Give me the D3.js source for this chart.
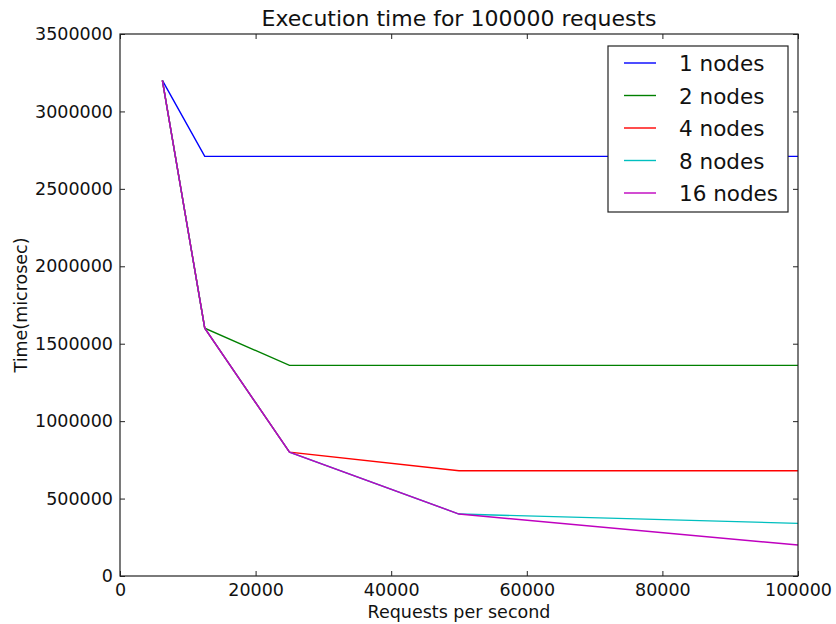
<!DOCTYPE html>
<html>
<head>
<meta charset="utf-8">
<script src="https://cdn.jsdelivr.net/npm/d3@7"></script>
<style>
  body { margin: 0; background: white; }
  svg { font-family: "DejaVu Sans", sans-serif; }
</style>
</head>
<body>
<div id="chart"></div>
<script>
// Chart data
const requestRates = [6250, 12500, 25000, 50000, 100000];
const seriesNames = ['1 nodes', '2 nodes', '4 nodes', '8 nodes', '16 nodes'];
const seriesColors = ['#0000ff', '#008000', '#ff0000', '#00bfbf', '#bf00bf'];
const nodes1 = [3200000, 2710000, 2710000, 2710000, 2710000];
const nodes2 = [3200000, 1600000, 1360000, 1360000, 1360000];
const nodes4 = [3200000, 1600000, 800000, 680000, 680000];
const nodes8 = [3200000, 1600000, 800000, 400000, 340000];
const nodes16 = [3200000, 1600000, 800000, 400000, 200000];
const xTicks = [0, 20000, 40000, 60000, 80000, 100000];
const yTicks = [0, 500000, 1000000, 1500000, 2000000, 2500000, 3000000, 3500000];

const allSeries = [nodes1, nodes2, nodes4, nodes8, nodes16];

const size = { width: 836, height: 624 };
const margin = { left: 120, right: 38, top: 34, bottom: 48 };
const plotW = size.width - margin.left - margin.right;
const plotH = size.height - margin.top - margin.bottom;

const svg = d3.select('#chart').append('svg')
    .attr('width', size.width)
    .attr('height', size.height);

const xScale = d3.scaleLinear().domain([0, 100000]).range([0, plotW]);
const yScale = d3.scaleLinear().domain([0, 3500000]).range([plotH, 0]);

const g = svg.append('g')
    .attr('transform', 'translate(' + margin.left + ',' + margin.top + ')');

// lines
const line = d3.line()
    .x((d, i) => xScale(requestRates[i]))
    .y(d => yScale(d));

allSeries.forEach(function (values, i) {
    g.append('path')
        .datum(values)
        .attr('d', line)
        .attr('fill', 'none')
        .attr('stroke', seriesColors[i])
        .attr('stroke-width', 1.4);
});

// axes: ticks pointing inwards, on all four sides
const tickFont = '17.5px';
const bottomAxis = d3.axisBottom(xScale).tickValues(xTicks).tickSizeInner(-5).tickSizeOuter(0).tickPadding(8).tickFormat(d3.format('d'));
const topAxis = d3.axisTop(xScale).tickValues(xTicks).tickSizeInner(-5).tickSizeOuter(0).tickFormat('');
const leftAxis = d3.axisLeft(yScale).tickValues(yTicks).tickSizeInner(-5).tickSizeOuter(0).tickPadding(7).tickFormat(d3.format('d'));
const rightAxis = d3.axisRight(yScale).tickValues(yTicks).tickSizeInner(-5).tickSizeOuter(0).tickFormat('');

const bx = g.append('g').attr('transform', 'translate(0,' + plotH + ')').call(bottomAxis);
const tx = g.append('g').call(topAxis);
const ly = g.append('g').call(leftAxis);
const ry = g.append('g').attr('transform', 'translate(' + plotW + ',0)').call(rightAxis);

[bx, tx, ly, ry].forEach(function (ax) {
    ax.select('.domain').remove();
    ax.selectAll('line').attr('stroke', '#222').attr('stroke-width', 1);
    ax.selectAll('text').style('font-size', tickFont).attr('fill', '#111')
        .style('font-family', '"DejaVu Sans", sans-serif');
});
bx.selectAll('text').attr('dy', '0.71em');

// frame
g.append('rect')
    .attr('x', 0).attr('y', 0)
    .attr('width', plotW).attr('height', plotH)
    .attr('fill', 'none')
    .attr('stroke', '#222')
    .attr('stroke-width', 1.2);

// title and axis labels
svg.append('text')
    .attr('x', margin.left + plotW / 2)
    .attr('y', 26)
    .attr('text-anchor', 'middle')
    .style('font-size', '22px')
    .attr('fill', '#111')
    .text('Execution time for 100000 requests');

svg.append('text')
    .attr('x', margin.left + plotW / 2)
    .attr('y', 618)
    .attr('text-anchor', 'middle')
    .style('font-size', '17.5px')
    .attr('fill', '#111')
    .text('Requests per second');

svg.append('text')
    .attr('transform', 'translate(27,' + (margin.top + plotH / 2) + ') rotate(-90)')
    .attr('text-anchor', 'middle')
    .style('font-size', '17.5px')
    .attr('fill', '#111')
    .text('Time(microsec)');

// legend
const legend = svg.append('g').attr('transform', 'translate(608,46)');
legend.append('rect')
    .attr('width', 180).attr('height', 166)
    .attr('fill', 'white')
    .attr('stroke', '#222')
    .attr('stroke-width', 1.2);

seriesNames.forEach(function (name, i) {
    const rowY = 17 + i * 32.5;
    legend.append('line')
        .attr('x1', 16).attr('x2', 48)
        .attr('y1', rowY).attr('y2', rowY)
        .attr('stroke', seriesColors[i])
        .attr('stroke-width', 1.4);
    legend.append('text')
        .attr('x', 71)
        .attr('y', rowY + 8)
        .style('font-size', '21.5px')
        .attr('fill', '#111')
        .text(name);
});
</script>
</body>
</html>
